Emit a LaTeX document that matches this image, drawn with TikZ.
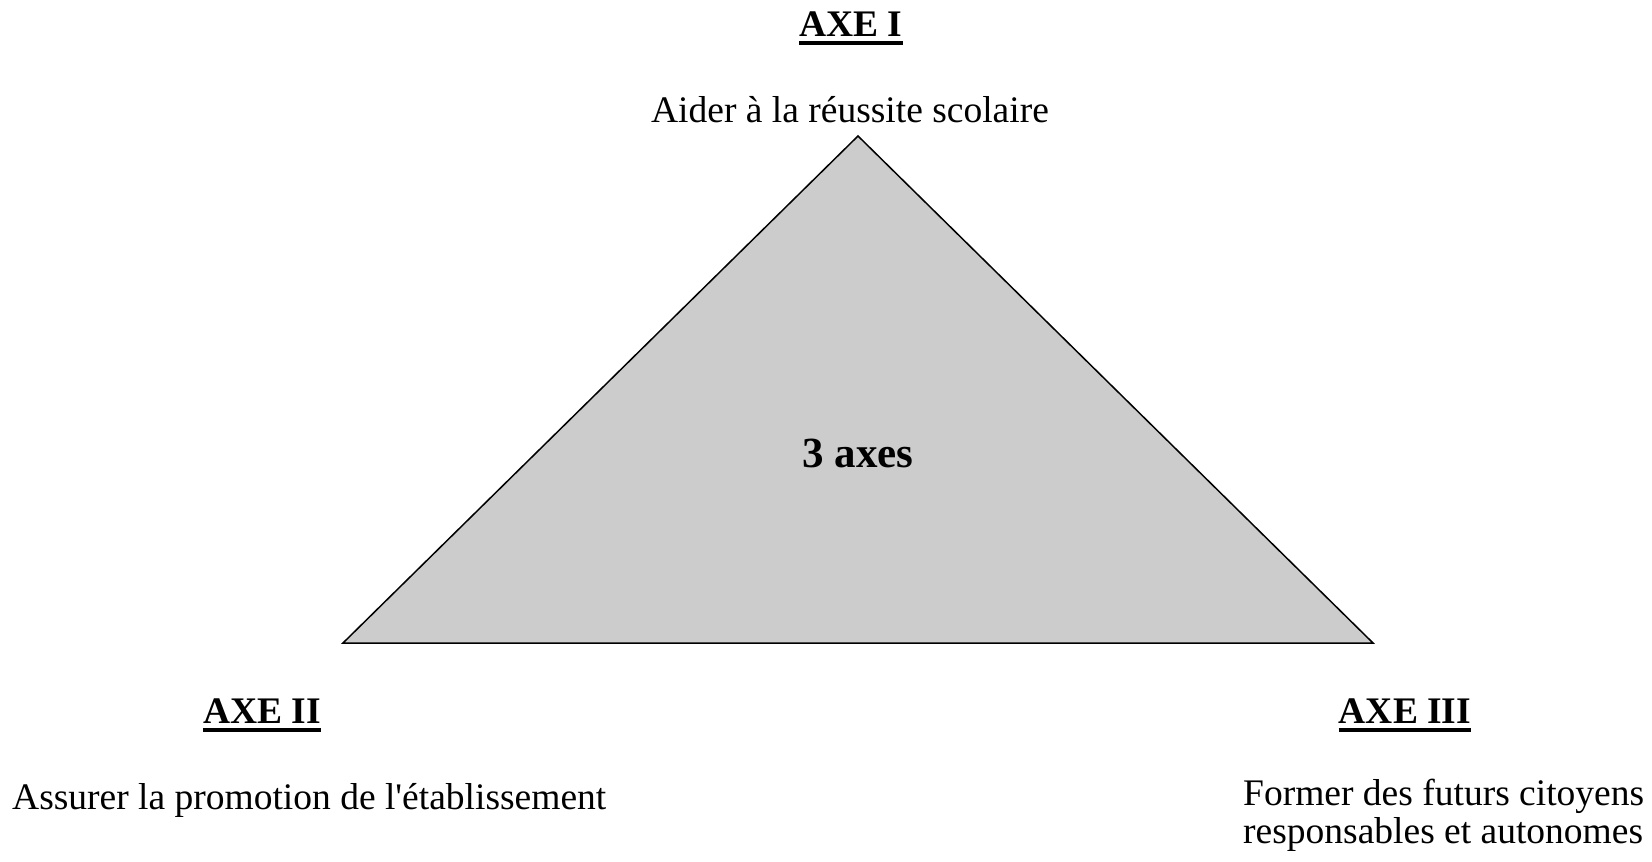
\documentclass[tikz,border=0pt]{standalone}
\usepackage{fontspec}
\setmainfont{Liberation Serif}
\definecolor{trigray}{HTML}{CCCCCC}
\tikzset{
  txt/.style={inner sep=0pt, font=\fontsize{37.5}{42}\selectfont},
  axe/.style={inner sep=0pt, font=\fontsize{37.5}{42}\selectfont\bfseries},
  uline/.style={line width=3.5pt},
}
\begin{document}
\begin{tikzpicture}[x=1pt,y=-1pt]
\useasboundingbox (0,0) rectangle (1652,862);
\coordinate (top) at (858,136);
\coordinate (bl) at (343,643);
\coordinate (br) at (1373,643);
\draw[fill=trigray, line width=1.5pt, line join=miter] (top) -- (bl) -- (br) -- cycle;
\node[font=\fontsize{43}{48}\selectfont\bfseries, inner sep=0pt, anchor=base] (c) at (858,467) {3 axes};
\node[axe, anchor=base] (a1) at (851,36) {AXE I};
\draw[uline] ([yshift=-7pt]a1.base west) -- ([yshift=-7pt]a1.base east);
\node[txt, anchor=base] (t1) at (850,122) {Aider à la réussite scolaire};
\node[axe, anchor=base] (a2) at (262,723) {AXE II};
\draw[uline] ([yshift=-7pt]a2.base west) -- ([yshift=-7pt]a2.base east);
\node[txt, anchor=base west] (t2) at (12,809) {\addfontfeature{Ligatures=TeXOff}Assurer la promotion de l'établissement};
\node[axe, anchor=base] (a3) at (1405,723) {AXE III};
\draw[uline] ([yshift=-7pt]a3.base west) -- ([yshift=-7pt]a3.base east);
\node[txt, anchor=base west] (t3) at (1243,805) {Former des futurs citoyens};
\node[txt, anchor=base west] (t4) at (1243,843) {responsables et autonomes};
\end{tikzpicture}
\end{document}
